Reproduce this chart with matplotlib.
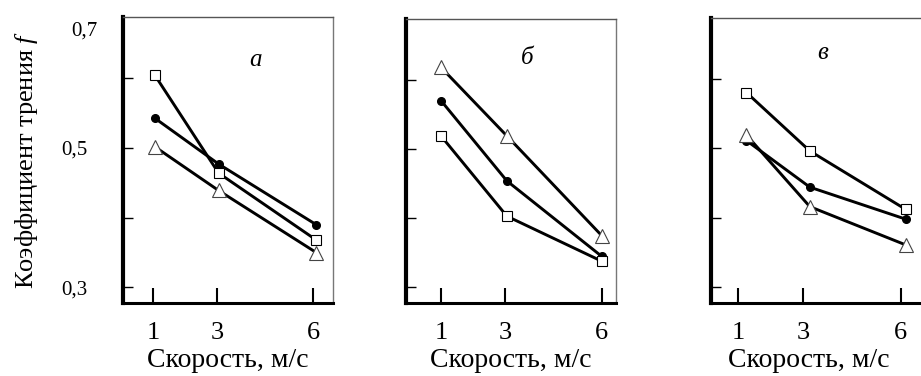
import matplotlib
matplotlib.use('Agg')
import matplotlib.pyplot as plt

# ─── ДАННЫЕ ─────────────────────────────────────────────
panel_names = ["а", "б", "в"]
x_ticks = [1, 3, 6]

x_a = [1.05, 3.05, 6.1]
sq_a = [0.605, 0.464, 0.368]
ci_a = [0.543, 0.477, 0.390]
tr_a = [0.502, 0.439, 0.350]

x_b = [1.0, 3.05, 6.0]
sq_b = [0.519, 0.403, 0.338]
ci_b = [0.570, 0.454, 0.345]
tr_b = [0.618, 0.519, 0.375]

x_c = [1.25, 3.2, 6.15]
sq_c = [0.580, 0.496, 0.412]
ci_c = [0.511, 0.444, 0.398]
tr_c = [0.519, 0.416, 0.361]

plt.rcParams['font.family'] = ['Liberation Serif', 'DejaVu Serif']
plt.rcParams['mathtext.fontset'] = 'custom'
plt.rcParams['mathtext.rm'] = 'Liberation Serif'
plt.rcParams['mathtext.it'] = 'Liberation Serif:italic'

fig = plt.figure(figsize=(9.21, 3.76), dpi=100)

# положения осей (в долях фигуры) и пределы по x
boxes = [
    [122.7 / 921, 1 - 302.7 / 376, 210 / 921, 285.4 / 376],
    [406 / 921, 1 - 302.7 / 376, 209.5 / 921, 283.4 / 376],
    [710.7 / 921, 1 - 302.7 / 376, 226 / 921, 285 / 376],
]
xlims = [(0.053, 6.616), (-0.089, 6.43), (0.152, 7.1)]
label_pos = [(255, 60), (527, 58), (823, 53)]
xlabel_x = [0.5, 0.5, 0.435]   # панель «в» обрезана справа

series = [
    (x_a, sq_a, ci_a, tr_a),
    (x_b, sq_b, ci_b, tr_b),
    (x_c, sq_c, ci_c, tr_c),
]

for i, (xs, sq, ci, tr) in enumerate(series):
    ax = fig.add_axes(boxes[i])
    ax.plot(xs, ci, '-o', color='black', lw=2.1, ms=5.5, zorder=3)
    ax.plot(xs, sq, '-s', color='black', lw=2.1, ms=6.5,
            mfc='white', mec='black', mew=0.8, zorder=4)
    ax.plot(xs, tr, '-^', color='black', lw=2.1, ms=9.5,
            mfc='white', mec='#444444', mew=0.8, zorder=4)

    ax.set_xlim(*xlims[i])
    ax.set_ylim(0.278, 0.6875)
    ax.set_xticks(x_ticks)
    ax.set_xticklabels([str(v) for v in x_ticks], fontsize=19)
    ax.set_yticks([0.3, 0.4, 0.5, 0.6])
    if i == 0:
        ax.set_yticklabels(["0,3", "", "0,5", ""], fontsize=15)
        ax.text(-0.12, 0.985, "0,7", transform=ax.transAxes, fontsize=15,
                ha='right', va='top')
        ax.set_ylabel("Коэффициент трения $f$", fontsize=19, labelpad=16)
    else:
        ax.set_yticklabels([])

    ax.tick_params(axis='x', direction='in', length=11, width=1.5, pad=14)
    ax.tick_params(axis='y', direction='in', length=7, width=1.0, pad=25)

    ax.spines['left'].set_linewidth(3)
    ax.spines['bottom'].set_linewidth(2.2)
    ax.spines['top'].set_linewidth(1.0)
    ax.spines['top'].set_color('#555555')
    ax.spines['right'].set_linewidth(1.0)
    ax.spines['right'].set_color('#777777')

    ax.set_xlabel("Скорость, м/с", fontsize=20, labelpad=3)
    ax.xaxis.label.set_x(xlabel_x[i])

    lx, ly = label_pos[i]
    fig.text(lx / 921, 1 - ly / 376, panel_names[i], fontsize=18,
             style='italic', ha='center', va='center')

plt.savefig("out.png", dpi=100)
plt.close()
